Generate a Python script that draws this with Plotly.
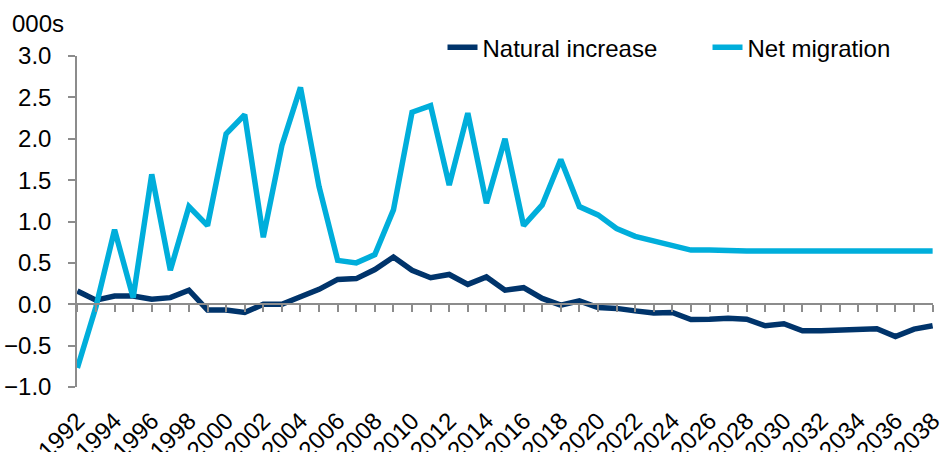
import plotly.graph_objects as go

# Components of population change, thousands
years = list(range(1992, 2039))

natural_increase = [
    0.16, 0.05, 0.10, 0.10, 0.06, 0.08, 0.17, -0.07, -0.07, -0.10,
    0.00, 0.00, 0.09, 0.18, 0.30, 0.31, 0.42, 0.57, 0.41, 0.32,
    0.36, 0.24, 0.33, 0.17, 0.20, 0.07, -0.01, 0.04, -0.04, -0.05,
    -0.08, -0.105, -0.10, -0.185, -0.18, -0.17, -0.18, -0.26, -0.235, -0.32,
    -0.32, -0.315, -0.295, -0.295, -0.39, -0.30, -0.26,
]

net_migration = [
    -0.77, -0.03, 0.90, 0.08, 1.57, 0.41, 1.18, 0.95, 2.06, 2.29,
    0.81, 1.92, 2.62, 1.42, 0.53, 0.50, 0.60, 1.14, 2.32, 2.40,
    1.44, 2.31, 1.22, 2.00, 0.95, 1.20, 1.75, 1.18, 1.08, 0.915,
    0.82, 0.77, 0.705, 0.655, 0.655, 0.645, 0.645, 0.645, 0.645, 0.645,
    0.645, 0.645, 0.645, 0.645, 0.645, 0.645, 0.645,
]

tick_years = list(range(1992, 2039, 2))

DARK = "#00346B"
LIGHT = "#00AEDB"
GREY = "#8C8C8C"
FONT = "Liberation Sans, Arial, sans-serif"

fig = go.Figure()
fig.add_trace(go.Scatter(
    x=years, y=natural_increase, mode="lines", name="Natural increase",
    line=dict(color=DARK, width=5.5),
))
fig.add_trace(go.Scatter(
    x=years, y=net_migration, mode="lines", name="Net migration",
    line=dict(color=LIGHT, width=5.5),
))
# empty trace so the zero-crossing category axis gets drawn
fig.add_trace(go.Scatter(
    x=[], y=[], xaxis="x2", showlegend=False, hoverinfo="skip",
))

pad = 0.02
x_range = [years[0] - pad, years[-1] + pad]
y_range = [-1.0, 3.0]

fig.update_layout(
    width=941, height=452,
    margin=dict(l=77, r=8, t=56, b=65, autoexpand=False),
    paper_bgcolor="white", plot_bgcolor="white",
    font=dict(family=FONT, size=24, color="#000000"),
    showlegend=True,
    legend=dict(
        orientation="h", x=0.427, y=1.025, xanchor="left", yanchor="middle",
        font=dict(size=24), bgcolor="rgba(0,0,0,0)",
        entrywidth=220, entrywidthmode="pixels",
    ),
    xaxis=dict(
        range=x_range, tickmode="array", tickvals=tick_years,
        ticktext=[str(y) for y in tick_years], tickangle=-45,
        showline=False, ticks="", showgrid=False, zeroline=False,
        ticklabelstandoff=14, automargin=False, ticklabeloverflow="allow",
    ),
    xaxis2=dict(
        overlaying="x", anchor="free", position=0.25, side="bottom",
        range=x_range, dtick=1, tick0=years[0],
        showline=True, linecolor=GREY, linewidth=1.5,
        ticks="outside", ticklen=7, tickcolor=GREY, tickwidth=1.5,
        showticklabels=False, showgrid=False, zeroline=False,
    ),
    yaxis=dict(
        range=y_range, dtick=0.5, tickformat=".1f",
        showline=True, linecolor=GREY, linewidth=1.5,
        ticks="outside", ticklen=7, tickcolor=GREY, tickwidth=1.5,
        showgrid=False, zeroline=False, ticklabelstandoff=12,
        automargin=False,
    ),
    annotations=[dict(
        text="000s", xref="paper", yref="paper", x=-0.078, y=1.097,
        xanchor="left", yanchor="middle", showarrow=False,
        font=dict(size=24),
    )],
)

fig.write_html("out.html")
